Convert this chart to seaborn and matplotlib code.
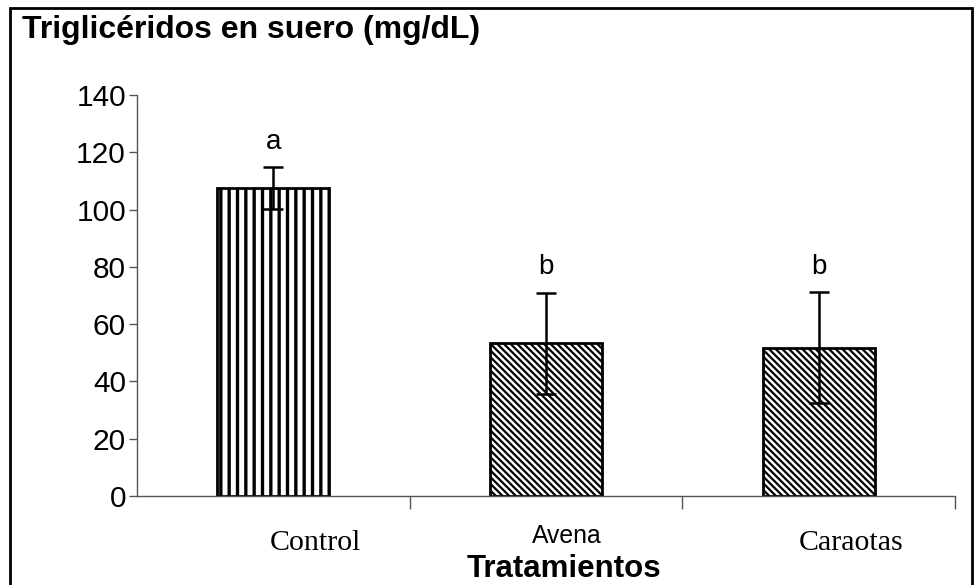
import matplotlib.pyplot as plt
import matplotlib.patches as mpatches
import matplotlib.transforms as mtransforms
import pandas as pd
import seaborn as sns

# Data
tratamientos = ['Control', 'Avena', 'Caraotas']
trigliceridos = [107.5, 53.3, 51.8]
error = [7.2, 17.6, 19.4]
letras = ['a', 'b', 'b']
y_ticks = [0, 20, 40, 60, 80, 100, 120, 140]

df = pd.DataFrame({'trat': tratamientos, 'tg': trigliceridos})

sns.set_theme(style='white')
plt.rcParams['font.family'] = ['Liberation Sans', 'DejaVu Sans']
plt.rcParams['text.color'] = 'black'
plt.rcParams['ytick.labelcolor'] = 'black'
plt.rcParams['hatch.linewidth'] = 1.6

fig = plt.figure(figsize=(9.74, 5.85), dpi=100)
ax = fig.add_axes([0.1407, 0.1521, 0.9805 - 0.1407, 0.8376 - 0.1521])

sns.barplot(data=df, x='trat', y='tg', ax=ax, width=0.41, color='white',
            edgecolor='black', linewidth=2, errorbar=None)
for bar, h in zip(ax.patches, ['||', '\\' * 5, '\\' * 5]):
    bar.set_hatch(h)
    if h == '||':
        bar.set_hatch_linewidth(2.4)

ax.errorbar(range(len(tratamientos)), trigliceridos, yerr=error, fmt='none',
            ecolor='black', elinewidth=1.8, capsize=7, capthick=1.8)

for i, (v, e, l) in enumerate(zip(trigliceridos, error, letras)):
    ax.annotate(l, (i, v + e), xytext=(0, 9), textcoords='offset points',
                ha='center', va='bottom', fontsize=20, color='black')

ax.set_ylim(0, 140)
ax.set_xlim(-0.5, 2.5)
ax.set_yticks(y_ticks)
ax.set_yticklabels([str(t) for t in y_ticks], fontsize=21.5, color='black')
ax.tick_params(axis='y', direction='out', length=6, width=1, color='#555555', pad=2, left=True)

# category boundary ticks on the x axis
ax.set_xticks([0.5, 1.5, 2.5])
ax.set_xticklabels([])
ax.tick_params(axis='x', direction='out', length=9, width=1, color='#555555', bottom=True)

# category labels (mixed fonts as in the original)
label_fonts = [('Liberation Serif', 21.5), ('Liberation Sans', 17.8), ('Liberation Serif', 21.5)]
label_shift = [42, 21, 32]
label_base = [-0.135, -0.117, -0.135]
for i, (t, (fam, fs), dx, yb) in enumerate(zip(tratamientos, label_fonts, label_shift, label_base)):
    tr = ax.get_xaxis_transform() + mtransforms.ScaledTranslation(dx / 100, 0, fig.dpi_scale_trans)
    ax.text(i, yb, t, transform=tr, ha='center', va='baseline', fontsize=fs, family=fam,
            color='black')

ax.set_xlabel('')
ax.set_ylabel('')
fig.text(0.579, 0.0137, 'Tratamientos', ha='center', va='baseline', fontsize=22.5,
         fontweight='bold', color='black')
fig.text(0.0226, 0.948, 'Triglicéridos en suero (mg/dL)', ha='left', va='center',
         fontsize=23, fontweight='bold', color='black')

for s in ['top', 'right']:
    ax.spines[s].set_visible(False)
for s in ['left', 'bottom']:
    ax.spines[s].set_color('#555555')
    ax.spines[s].set_linewidth(1)

# outer frame of the figure
fig.patches.append(mpatches.Rectangle((10 / 974, -0.05), 962 / 974, 1 - 8 / 585 + 0.05,
                                      transform=fig.transFigure, fill=False,
                                      edgecolor='black', linewidth=2))

fig.savefig('out.png', dpi=100)
